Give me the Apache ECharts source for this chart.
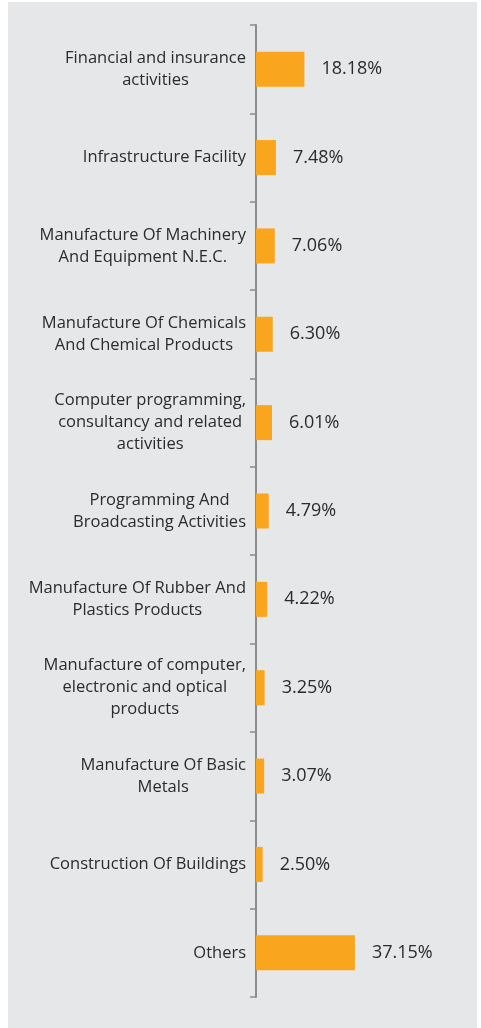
<!DOCTYPE html>
<html>
<head>
<meta charset="utf-8">
<script src="https://cdn.jsdelivr.net/npm/echarts@6/dist/echarts.min.js"></script>
<style>
  html, body { margin: 0; padding: 0; background: #ffffff; }
  #chart { width: 481px; height: 1028px; }
</style>
</head>
<body>
<div id="chart"></div>
<script>
// Sector names (line breaks as shown on the axis)
const categories = [
  'Financial and insurance\nactivities',
  'Infrastructure Facility',
  'Manufacture Of Machinery\nAnd Equipment N.E.C.',
  'Manufacture Of Chemicals\nAnd Chemical Products',
  'Computer programming,\nconsultancy and related\nactivities',
  'Programming And\nBroadcasting Activities',
  'Manufacture Of Rubber And\nPlastics Products',
  'Manufacture of computer,\nelectronic and optical\nproducts',
  'Manufacture Of Basic\nMetals',
  'Construction Of Buildings',
  'Others'
];

// Share of each sector, in percent
const shares = [18.18, 7.48, 7.06, 6.30, 6.01, 4.79, 4.22, 3.25, 3.07, 2.50, 37.15];

const chart = echarts.init(document.getElementById('chart'), null, { renderer: 'canvas' });

const FONT = '"Open Sans", "Noto Sans", sans-serif';
const CAT_SIZE = 16.5;

chart.setOption({
  backgroundColor: '#ffffff',
  animation: false,
  graphic: [{
    type: 'rect',
    z: -10,
    silent: true,
    shape: { x: 8, y: 2, width: 469, height: 1026 },
    style: { fill: '#e6e7e8' }
  }],
  grid: { left: 256, right: 12, top: 25, bottom: 31, containLabel: false },
  xAxis: {
    type: 'value',
    min: 0,
    max: 80,
    show: false
  },
  yAxis: {
    type: 'category',
    inverse: true,
    data: categories,
    axisLine: { show: true, lineStyle: { color: '#8c8c8c', width: 2 } },
    axisTick: { show: true, length: 6, lineStyle: { color: '#8c8c8c', width: 1.5 } },
    axisLabel: {
      margin: 10,
      fontFamily: FONT,
      fontSize: CAT_SIZE,
      color: '#2b2b2b',
      lineHeight: 22,
      formatter: function (v) {
        return v.split('\n').map(function (l) { return '{c|' + l + '}'; }).join('\n');
      },
      rich: {
        c: { align: 'center', fontFamily: FONT, fontSize: CAT_SIZE, color: '#2b2b2b', lineHeight: 22 }
      }
    },
    splitLine: { show: false }
  },
  series: [{
    type: 'bar',
    data: shares,
    barWidth: 35,
    itemStyle: { color: '#f9a61e' },
    label: {
      show: true,
      position: 'right',
      distance: 17,
      fontFamily: FONT,
      fontSize: 18,
      color: '#2b2b2b',
      formatter: function (p) { return p.value.toFixed(2) + '%'; }
    }
  }]
});
</script>
</body>
</html>
